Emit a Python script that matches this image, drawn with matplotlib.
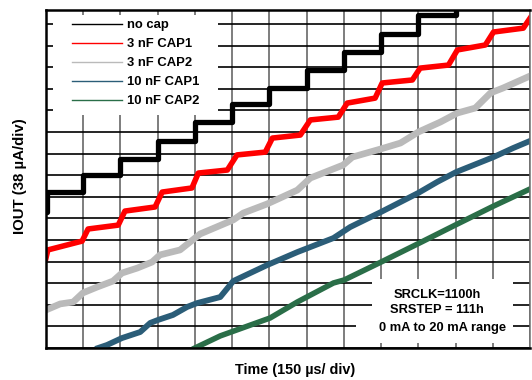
import matplotlib

matplotlib.use("Agg")
import matplotlib.pyplot as plt
from matplotlib.patches import Rectangle

plt.rcParams["font.family"] = ["Liberation Sans", "DejaVu Sans"]
plt.rcParams["font.weight"] = "bold"

# time in divisions (150 us/div), current in divisions (38 uA/div)
nocap_t = [0, 0.03, 1, 2, 3, 4, 5, 6, 7, 8, 9, 10, 11, 12, 13]
nocap_i = [6.3, 7.2, 8.0, 8.75, 9.6, 10.45, 11.3, 12.05, 12.85, 13.7, 14.55,
           15.4, 16.2, 17.0, 17.0]

cap1_3nf_t = [0, 0.05, 0.97, 1.13, 1.94, 2.12, 2.93, 3.12, 3.92, 4.09, 4.87,
              5.13, 5.89, 6.08, 6.83, 7.10, 7.85, 8.09, 8.84, 9.03, 9.84,
              10.05, 10.81, 11.05, 11.80, 12.02, 12.82, 13.06]
cap1_3nf_i = [4.17, 4.54, 4.95, 5.51, 5.69, 6.34, 6.53, 7.22, 7.41, 8.10, 8.24,
              8.94, 9.07, 9.72, 9.86, 10.56, 10.69, 11.34, 11.57, 12.27, 12.41,
              12.96, 13.10, 13.80, 14.03, 14.63, 14.81, 15.42]

cap2_3nf_t = [0, 0.38, 0.73, 0.99, 1.37, 1.80, 2.04, 2.45, 2.85, 3.06, 3.60,
              4.14, 5.03, 5.30, 5.94, 6.75, 7.10, 7.98, 8.23, 8.98, 9.52,
              10.0, 10.59, 11.05, 11.53, 11.94, 12.28, 13.06]
cap2_3nf_i = [1.76, 2.04, 2.13, 2.55, 2.82, 3.10, 3.47, 3.70, 3.98, 4.31, 4.54,
              5.28, 5.93, 6.25, 6.67, 7.31, 7.87, 8.47, 8.84, 9.21, 9.49,
              10.0, 10.46, 10.88, 11.11, 11.81, 12.04, 12.64]

cap1_10nf_t = [1.40, 1.64, 2.04, 2.53, 2.80, 3.01, 3.41, 3.79, 4.06, 4.68,
               5.03, 5.94, 6.75, 7.72, 8.17, 9.0, 10.0, 10.51, 11.02, 12.02,
               12.55, 13.06]
cap1_10nf_i = [0, 0.14, 0.46, 0.74, 1.16, 1.30, 1.53, 1.90, 2.08, 2.36,
               3.10, 3.84, 4.44, 5.09, 5.60, 6.30, 7.18, 7.69, 8.15, 8.84,
               9.26, 9.63]

cap2_10nf_t = [4.0, 4.68, 6.02, 6.75, 7.72, 8.01, 9.0, 10.03, 10.99, 12.02, 13.06]
cap2_10nf_i = [0, 0.56, 1.39, 2.13, 3.01, 3.15, 3.98, 4.86, 5.69, 6.57, 7.41]

fig = plt.figure(figsize=(5.32, 3.80), dpi=100)
ax = fig.add_axes([46 / 532, 32 / 380, 484 / 532, 338 / 380])

ax.set_xlim(0, 13)
ax.set_ylim(0, 15.65)
ax.set_xticks(range(0, 14))
ax.set_yticks(range(0, 16))
ax.tick_params(length=0, labelbottom=False, labelleft=False)
ax.xaxis.grid(True, color="#5a5a5a", lw=1.1)
ax.yaxis.grid(True, color="black", lw=1.2)
ax.set_axisbelow(True)
for side in ("left", "bottom", "top"):
    ax.spines[side].set_linewidth(1.8)
ax.spines["right"].set_color("#707070")
ax.spines["right"].set_linewidth(1.1)

ax.plot(nocap_t, nocap_i, color="black", lw=3.8, drawstyle="steps-post",
        label="no cap")
ax.plot(cap1_3nf_t, cap1_3nf_i, color="#ff0000", lw=4.0, label="3 nF CAP1")
ax.plot(cap2_3nf_t, cap2_3nf_i, color="#bababa", lw=4.8, label="3 nF CAP2")
ax.plot(cap1_10nf_t, cap1_10nf_i, color="#2b5d78", lw=4.2, label="10 nF CAP1")
ax.plot(cap2_10nf_t, cap2_10nf_i, color="#2a6e48", lw=4.0, label="10 nF CAP2")

# white patches behind legend and annotation, like the scope screenshot
ax.add_patch(Rectangle((0.19, 10.79), 4.43, 4.63, fc="white", ec="none", zorder=3))
ax.add_patch(Rectangle((8.76, 0.23), 3.79, 2.95, fc="white", ec="none", zorder=3))
ax.add_patch(Rectangle((8.33, 0.23), 4.22, 1.16, fc="white", ec="none", zorder=3))

leg = ax.legend(loc="upper left", bbox_to_anchor=(26 / 484, 329 / 338),
                frameon=False, borderpad=0, borderaxespad=0, fontsize=9.4,
                handlelength=3.8, handletextpad=0.45, labelspacing=0.53)
for h in leg.get_lines():
    h.set_linewidth(1.0)

ax.text(10.51, 2.45, "SRCLK=1100h", ha="center", va="center", fontsize=9.3,
        fontweight="bold", zorder=5)
ax.text(10.51, 1.76, "SRSTEP = 111h", ha="center", va="center", fontsize=9.3,
        fontweight="bold", zorder=5)
ax.text(10.65, 0.93, "0 mA to 20 mA range", ha="center", va="center",
        fontsize=9.3, fontweight="bold", zorder=5)

fig.text(20 / 532, 1 - 176 / 380, "IOUT (38 µA/div)", rotation=90,
         ha="center", va="center", fontsize=10.8, fontweight="bold")
fig.text(295 / 532, 1 - 370 / 380, "Time (150 µs/ div)", ha="center",
         va="center", fontsize=10.4, fontweight="bold")

fig.savefig("out.png", dpi=100)
